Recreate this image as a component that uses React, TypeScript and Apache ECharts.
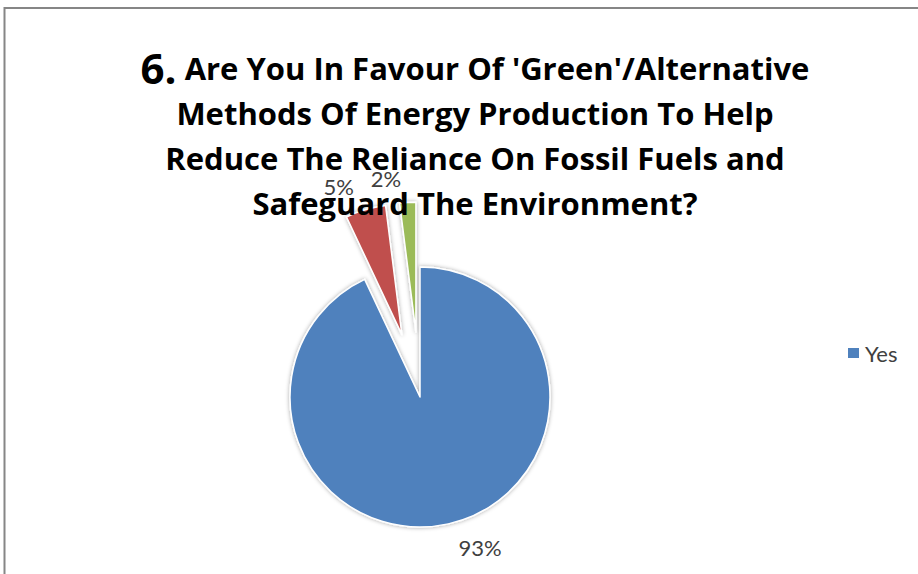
import React, { useEffect, useRef } from "react";
import * as echarts from "echarts";

// Survey answers, share of respondents (%)
const answers = ["Yes", "No", "Not Sure"];
const shares = [93, 5, 2];
const sliceColors = ["#4F81BD", "#C0504D", "#9BBB59"];
const explodedAnswers = ["No", "Not Sure"];
const legendEntries = ["Yes"];

const titleLines = [
  "{num|6.} Are You In Favour Of 'Green'/Alternative",
  "Methods Of Energy Production To Help",
  "Reduce The Reliance On Fossil Fuels and",
  "Safeguard The Environment?",
];

export default function App() {
  const ref = useRef<HTMLDivElement>(null);

  useEffect(() => {
    if (!ref.current) return;
    const chart = echarts.init(ref.current, null, { renderer: "svg" });
    chart.setOption({
      animation: false,
      backgroundColor: "#ffffff",
      graphic: [
        {
          type: "rect",
          shape: { x: 4.5, y: 8, width: 1000, height: 1000 },
          style: { fill: "none", stroke: "#868686", lineWidth: 2 },
          silent: true,
          z: 0,
        },
      ],
      title: {
        text: titleLines.join("\n"),
        left: 470,
        top: 40,
        textAlign: "center",
        textStyle: {
          fontFamily: "Open Sans",
          fontWeight: "bold",
          fontSize: 31,
          lineHeight: 45,
          color: "#000000",
          rich: {
            num: {
              fontFamily: "Open Sans",
              fontWeight: "bold",
              fontSize: 42,
              lineHeight: 45,
              color: "#000000",
            },
          },
        },
      },
      legend: {
        data: legendEntries,
        orient: "vertical",
        left: 841,
        top: 337,
        itemWidth: 13,
        itemHeight: 12,
        icon: "rect",
        selectedMode: false,
        textStyle: { fontFamily: "Lato", fontSize: 22, color: "#404040" },
      },
      series: [
        {
          type: "pie",
          center: [420, 397],
          radius: 130,
          startAngle: 90,
          clockwise: true,
          selectedMode: "multiple",
          selectedOffset: 65,
          avoidLabelOverlap: false,
          itemStyle: {
            borderColor: "#ffffff",
            borderWidth: 1.5,
            shadowBlur: 4,
            shadowColor: "rgba(0,0,0,0.35)",
          },
          label: {
            show: true,
            position: "outside",
            formatter: "{c}%",
            fontFamily: "Lato",
            fontSize: 22,
            color: "#404040",
          },
          labelLine: { show: false, length: 24, length2: 0 },
          emphasis: { disabled: true },
          data: answers.map((name, i) => ({
            name,
            value: shares[i],
            selected: explodedAnswers.includes(name),
            itemStyle: { color: sliceColors[i] },
          })),
        },
      ],
    });
    return () => chart.dispose();
  }, []);

  return (
    <div
      ref={ref}
      style={{ position: "absolute", left: 0, top: 0, width: 918, height: 574 }}
    />
  );
}
